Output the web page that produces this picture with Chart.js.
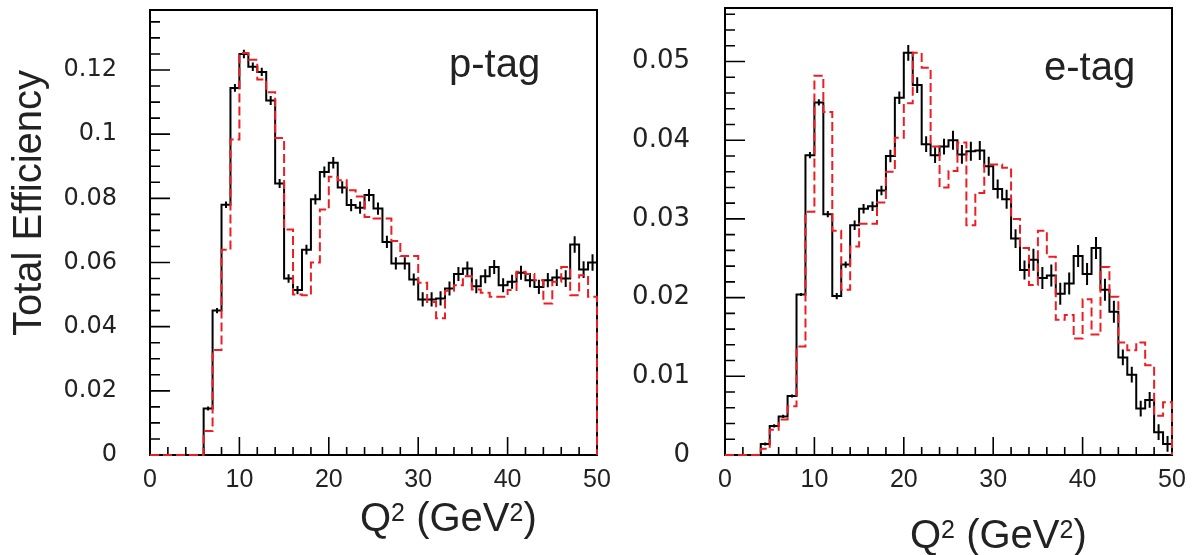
<!DOCTYPE html>
<html>
<head>
<meta charset="utf-8">
<title>Total Efficiency vs Q2</title>
<script src="https://cdn.jsdelivr.net/npm/chart.js@4.4.0/dist/chart.umd.min.js"></script>
<style>
  html, body { margin: 0; padding: 0; background: #fff; }
  #wrap { position: relative; width: 1198px; height: 555px; overflow: hidden; }
  .panel { position: absolute; top: 0; height: 555px; }
  #left { left: 0; width: 625px; }
  #right { left: 600px; width: 598px; }
</style>
</head>
<body>
<div id="wrap">
  <div class="panel" id="left"><canvas id="pTag" width="625" height="555"></canvas></div>
  <div class="panel" id="right"><canvas id="eTag" width="598" height="555"></canvas></div>
</div>
<script>
// ---------- Data ----------
// lower edge of each 1 GeV^2 bin
const Q2_LOW_EDGES = [0, 1, 2, 3, 4, 5, 6, 7, 8, 9, 10, 11, 12, 13, 14, 15, 16, 17, 18, 19,
  20, 21, 22, 23, 24, 25, 26, 27, 28, 29, 30, 31, 32, 33, 34, 35, 36, 37, 38, 39,
  40, 41, 42, 43, 44, 45, 46, 47, 48, 49];
const Q2_MAX = 50;
const X_TICKS = [0, 10, 20, 30, 40, 50];
const P_Y_TICKS = [0, 0.02, 0.04, 0.06, 0.08, 0.1, 0.12];
const E_Y_TICKS = [0, 0.01, 0.02, 0.03, 0.04, 0.05];

// p-tag: black = data (with errors), red dashed = second sample
const P_BLACK = [0, 0, 0, 0, 0, 0, 0.0145, 0.045, 0.078, 0.1144,
  0.125, 0.121, 0.1194, 0.1105, 0.0846, 0.055, 0.0514, 0.064, 0.0797, 0.0882,
  0.0911, 0.0834, 0.0779, 0.0771, 0.081, 0.0768, 0.0664, 0.0597, 0.0597, 0.0547,
  0.0485, 0.0485, 0.0488, 0.0519, 0.0564, 0.0581, 0.0526, 0.0557, 0.0586, 0.0529,
  0.054, 0.0568, 0.0545, 0.0524, 0.0545, 0.0553, 0.055, 0.0656, 0.0578, 0.06];
const P_ERR = [0, 0, 0, 0, 0, 0, 0.0006, 0.0008, 0.001, 0.0012,
  0.0013, 0.0013, 0.0013, 0.0014, 0.0014, 0.0013, 0.0013, 0.0015, 0.0016, 0.0017,
  0.0018, 0.0019, 0.0019, 0.0019, 0.0019, 0.0019, 0.0019, 0.0019, 0.0019, 0.0019,
  0.0022, 0.0022, 0.0022, 0.0022, 0.0022, 0.0022, 0.0022, 0.0022, 0.0022, 0.0022,
  0.0022, 0.0022, 0.0022, 0.0022, 0.0022, 0.0026, 0.0026, 0.0026, 0.0026, 0.0026];
const P_RED = [0, 0, 0, 0, 0, 0, 0.0075, 0.0327, 0.064, 0.0983,
  0.1253, 0.1232, 0.117, 0.1131, 0.0988, 0.0703, 0.05, 0.0498, 0.06, 0.0765,
  0.0867, 0.0856, 0.0825, 0.0806, 0.0742, 0.0737, 0.0737, 0.0667, 0.062, 0.062,
  0.0537, 0.0477, 0.0426, 0.0512, 0.0529, 0.0557, 0.0516, 0.0506, 0.0493, 0.0493,
  0.0514, 0.0571, 0.0564, 0.0545, 0.0472, 0.054, 0.0586, 0.0498, 0.056, 0.0493];

// e-tag
const E_BLACK = [0, 0, 0, 0, 0.0014, 0.0037, 0.0049, 0.0075, 0.0204, 0.0381,
  0.0448, 0.0306, 0.0202, 0.0242, 0.0292, 0.0313, 0.0316, 0.0336, 0.038, 0.0454,
  0.0511, 0.047, 0.0395, 0.0381, 0.0392, 0.04, 0.0382, 0.0386, 0.0387, 0.0367,
  0.0338, 0.0325, 0.0275, 0.0235, 0.0248, 0.0225, 0.0228, 0.0205, 0.0218, 0.0253,
  0.023, 0.0263, 0.021, 0.0182, 0.0124, 0.0102, 0.0059, 0.007, 0.0029, 0.0014];
const E_ERR = [0, 0, 0, 0, 0.0002, 0.0002, 0.0002, 0.0002, 0.0002, 0.0004,
  0.0004, 0.0004, 0.0004, 0.0004, 0.0006, 0.0006, 0.0006, 0.0006, 0.0008, 0.0008,
  0.001, 0.001, 0.001, 0.001, 0.001, 0.0012, 0.0012, 0.0012, 0.0012, 0.0012,
  0.0012, 0.0012, 0.0012, 0.0012, 0.0014, 0.0014, 0.0014, 0.0014, 0.0014, 0.0014,
  0.0014, 0.0014, 0.0014, 0.0014, 0.001, 0.001, 0.001, 0.001, 0.001, 0.001];
const E_RED = [0, 0, 0, 0, 0.0008, 0.0032, 0.0045, 0.0062, 0.0138, 0.0309,
  0.0482, 0.0436, 0.0285, 0.021, 0.0265, 0.0294, 0.0294, 0.0321, 0.036, 0.0403,
  0.0447, 0.0511, 0.0492, 0.0392, 0.034, 0.0361, 0.0397, 0.0292, 0.0333, 0.0369,
  0.0369, 0.0365, 0.03, 0.0263, 0.0216, 0.0285, 0.0252, 0.0172, 0.0178, 0.0148,
  0.0198, 0.0153, 0.0239, 0.0201, 0.0143, 0.0133, 0.0143, 0.0114, 0.005, 0.0067];

// ---------- Style ----------
const INK = "#000";
const TEXT = "#222";
const RED = "#ee1d23";

// ---------- Helpers ----------
// histogram outline: one point per bin low edge, closed down to 0 at the top edge
function histPoints(vals) {
  const pts = Q2_LOW_EDGES.map((x, i) => ({ x, y: vals[i] }));
  pts.push({ x: Q2_MAX, y: vals[vals.length - 1] });
  pts.push({ x: Q2_MAX, y: 0 });
  return pts;
}

// vertical error bars at bin centres, separated by gaps
function errPoints(vals, errs) {
  const pts = [];
  Q2_LOW_EDGES.forEach((x, i) => {
    if (!errs[i]) return;
    const c = x + 0.5;
    pts.push({ x: c, y: vals[i] - errs[i] }, { x: c, y: vals[i] + errs[i] }, { x: c, y: null });
  });
  return pts;
}

function drawQ2Title(ctx, x0, base) {
  const big = '40px "Liberation Sans"';
  const small = '25px "Liberation Sans"';
  const parts = [["Q", big, 0], ["2", small, -10], [" (GeV", big, 0], ["2", small, -10], [")", big, 0]];
  let x = x0;
  ctx.textAlign = "left";
  ctx.textBaseline = "alphabetic";
  for (const [t, f, dy] of parts) {
    ctx.font = f;
    ctx.fillText(t, x, base + dy);
    x += ctx.measureText(t).width;
  }
}

// frame + inward ROOT-style ticks, then the texts
const framePlugin = {
  id: "frame",
  beforeDatasetsDraw(chart, args, o) {
    const { ctx, chartArea: a, scales } = chart;
    ctx.save();
    ctx.strokeStyle = INK;
    ctx.lineWidth = 2;
    ctx.strokeRect(a.left, a.top, a.right - a.left, a.bottom - a.top);

    ctx.lineWidth = 1.6;
    ctx.beginPath();
    for (let k = 0; k * 2 <= Q2_MAX; k++) {
      const px = scales.x.getPixelForValue(k * 2);
      const len = k % 5 === 0 ? 18 : 8;
      ctx.moveTo(px, a.bottom);
      ctx.lineTo(px, a.bottom - len);
    }
    for (let k = 0; k * o.yMinor <= o.yMax + 1e-9; k++) {
      const py = scales.y.getPixelForValue(k * o.yMinor);
      const len = k % o.perMajor === 0 ? 20 : 10;
      ctx.moveTo(a.left, py);
      ctx.lineTo(a.left + len, py);
    }
    ctx.stroke();
    ctx.restore();
  },
  afterDraw(chart, args, o) {
    const { ctx } = chart;
    ctx.save();
    ctx.fillStyle = TEXT;
    if (o.yTitle) {
      ctx.save();
      ctx.translate(o.yTitle.x, o.yTitle.y);
      ctx.rotate(-Math.PI / 2);
      ctx.font = '40px "Liberation Sans"';
      ctx.textAlign = "center";
      ctx.textBaseline = "alphabetic";
      ctx.fillText(o.yTitle.text, 0, 0);
      ctx.restore();
    }
    ctx.font = '40px "Liberation Sans"';
    ctx.textAlign = "left";
    ctx.textBaseline = "alphabetic";
    ctx.fillText(o.label.text, o.label.x, o.label.y);
    drawQ2Title(ctx, o.xTitle.x, o.xTitle.y);
    ctx.restore();
  },
};

function makePanel(id, black, errs, red, p) {
  const ctx = document.getElementById(id).getContext("2d");
  return new Chart(ctx, {
    type: "line",
    data: {
      datasets: [
        {
          data: histPoints(red),
          borderColor: RED,
          borderWidth: 2,
          borderDash: [9, 4],
          stepped: true,
          pointRadius: 0,
          fill: false,
          clip: 4,
        },
        {
          data: histPoints(black),
          borderColor: INK,
          borderWidth: 2,
          stepped: true,
          pointRadius: 0,
          fill: false,
          clip: 4,
        },
        {
          data: errPoints(black, errs),
          borderColor: INK,
          borderWidth: 2,
          spanGaps: false,
          pointRadius: 0,
          fill: false,
        },
      ],
    },
    options: {
      responsive: false,
      animation: false,
      events: [],
      layout: { padding: { top: p.top, right: p.right, left: 0, bottom: 0 } },
      scales: {
        x: {
          type: "linear",
          min: 0,
          max: Q2_MAX,
          afterBuildTicks: (s) => { s.ticks = X_TICKS.map((value) => ({ value })); },
          afterFit: (s) => { s.height = 555 - p.bottom; s.paddingLeft = 0; s.paddingRight = 0; },
          grid: { display: false },
          border: { display: false },
          ticks: {
            padding: 2,
            color: TEXT,
            maxRotation: 0,
            autoSkip: false,
            font: { family: "Liberation Sans", size: 25 },
            callback: (v) => String(v),
          },
        },
        y: {
          type: "linear",
          min: 0,
          max: p.yMax,
          afterBuildTicks: (s) => { s.ticks = p.yTicks.map((value) => ({ value })); },
          afterFit: (s) => { s.width = p.left; s.paddingTop = 0; s.paddingBottom = 0; },
          grid: { display: false },
          border: { display: false },
          ticks: {
            padding: p.yPad,
            color: TEXT,
            autoSkip: false,
            font: { family: "DejaVu Sans", size: p.yFont },
            callback: (v) => String(v),
          },
        },
      },
      plugins: {
        legend: { display: false },
        tooltip: { enabled: false },
        frame: {
          yMinor: p.yMinor,
          perMajor: p.perMajor,
          yMax: p.yMax,
          yTitle: p.yTitle,
          label: p.label,
          xTitle: p.xTitle,
        },
      },
    },
    plugins: [framePlugin],
  });
}

makePanel("pTag", P_BLACK, P_ERR, P_RED, {
  top: 10, right: 28, left: 150, bottom: 455,
  yMax: 0.1387, yTicks: P_Y_TICKS, yMinor: 0.005, perMajor: 4,
  yPad: 25, yFont: 24,
  yTitle: { text: "Total Efficiency", x: 41, y: 203 },
  label: { text: "p-tag", x: 449, y: 77 },
  xTitle: { x: 360, y: 531 },
});

makePanel("eTag", E_BLACK, E_ERR, E_RED, {
  top: 8, right: 26, left: 125, bottom: 455,
  yMax: 0.0568, yTicks: E_Y_TICKS, yMinor: 0.002, perMajor: 5,
  yPad: 27, yFont: 26,
  yTitle: null,
  label: { text: "e-tag", x: 444, y: 80 },
  xTitle: { x: 310, y: 548 },
});
</script>
</body>
</html>
